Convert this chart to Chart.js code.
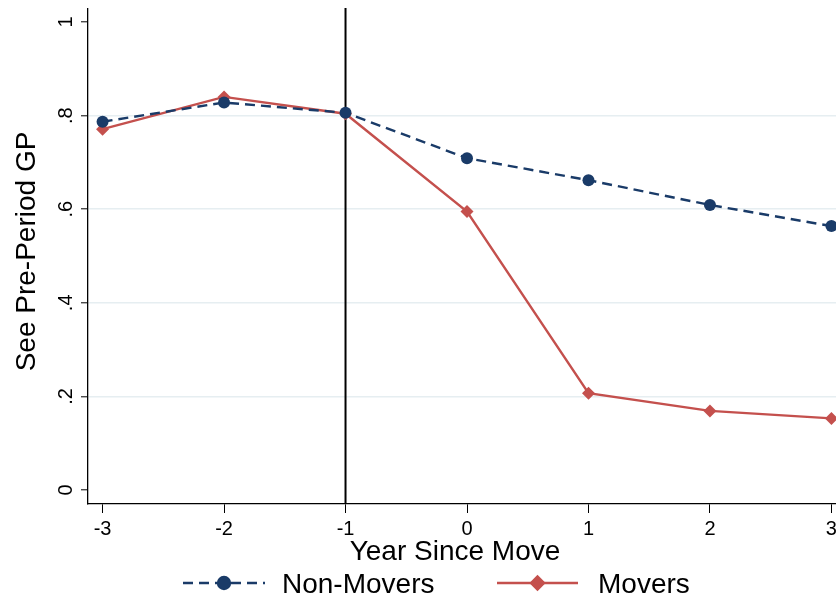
<!DOCTYPE html>
<html><head><meta charset="utf-8">
<script src="https://cdn.jsdelivr.net/npm/chart.js@4.4.0/dist/chart.umd.min.js"></script>
<style>
html,body{margin:0;padding:0;background:#fff;overflow:hidden;width:836px;height:601px}
#wrap{position:relative;width:860px;height:601px}
canvas{display:block}
</style>
</head><body><div id="wrap"><canvas id="c" width="860" height="601"></canvas></div>
<script>
const years = [-3, -2, -1, 0, 1, 2, 3];
const nonMovers = [0.787, 0.828, 0.806, 0.709, 0.662, 0.609, 0.564];
const movers = [0.771, 0.840, 0.804, 0.595, 0.207, 0.169, 0.153];
const xTicks = [-3, -2, -1, 0, 1, 2, 3];
const yTicks = [0, 0.2, 0.4, 0.6, 0.8, 1];
const yTickLabels = ['0', '.2', '.4', '.6', '.8', '1'];
const eventYear = -1;
const seriesNames = ['Non-Movers', 'Movers'];
const xTitle = 'Year Since Move';
const yTitle = 'See Pre-Period GP';

const NAVY = '#1a3b68';
const RED = '#c4504d';
const FONT = '"Liberation Sans", Arial, Helvetica, sans-serif';

const toPts = (xs, ys) => xs.map((x, i) => ({x: x, y: ys[i]}));

const extras = {
  id: 'extras',
  beforeDatasetsDraw(chart) {
    const {ctx, chartArea, scales} = chart;
    const x = scales.x.getPixelForValue(eventYear);
    ctx.save();
    ctx.strokeStyle = '#000';
    ctx.lineWidth = 2;
    ctx.beginPath();
    ctx.moveTo(x, chartArea.top - 1);
    ctx.lineTo(x, chartArea.bottom);
    ctx.stroke();
    ctx.restore();
  },
  afterDraw(chart) {
    const {ctx, chartArea, scales} = chart;
    ctx.save();
    ctx.fillStyle = '#000';
    // y tick labels (rotated)
    ctx.font = '20px ' + FONT;
    ctx.textAlign = 'center';
    ctx.textBaseline = 'alphabetic';
    yTicks.forEach((v, i) => {
      const y = scales.y.getPixelForValue(v);
      ctx.save();
      ctx.translate(72, y);
      ctx.rotate(-Math.PI / 2);
      ctx.fillText(yTickLabels[i], 0, 0);
      ctx.restore();
    });
    // y title
    ctx.font = '28px ' + FONT;
    ctx.save();
    ctx.translate(35, (chartArea.top + chartArea.bottom) / 2 - 5);
    ctx.rotate(-Math.PI / 2);
    ctx.fillText(yTitle, 0, 0);
    ctx.restore();
    // x title
    ctx.fillText(xTitle, 455, 560);
    // legend
    const legendY = 583;
    const items = [
      {name: seriesNames[0], x0: 183, x1: 265, tx: 282, ds: chart.data.datasets[0]},
      {name: seriesNames[1], x0: 497, x1: 578, tx: 598, ds: chart.data.datasets[1]}
    ];
    items.forEach(it => {
      ctx.save();
      ctx.strokeStyle = it.ds.borderColor;
      ctx.lineWidth = it.ds.borderWidth;
      ctx.setLineDash(it.ds.borderDash || []);
      ctx.beginPath();
      ctx.moveTo(it.x0, legendY);
      ctx.lineTo(it.x1, legendY);
      ctx.stroke();
      ctx.setLineDash([]);
      Chart.helpers.drawPoint(ctx, {
        pointStyle: it.ds.pointStyle, radius: it.ds.pointRadius, rotation: 0, borderWidth: 1
      }, (it.x0 + it.x1) / 2, legendY);
      ctx.fillStyle = it.ds.backgroundColor;
      ctx.strokeStyle = it.ds.borderColor;
      ctx.fill();
      ctx.restore();
      ctx.fillStyle = '#000';
      ctx.textAlign = 'left';
      ctx.font = '28px ' + FONT;
      ctx.fillText(it.name, it.tx, legendY + 10);
    });
    ctx.restore();
  }
};

new Chart(document.getElementById('c'), {
  type: 'line',
  data: {
    datasets: [
      {
        label: seriesNames[0], data: toPts(years, nonMovers),
        borderColor: NAVY, backgroundColor: NAVY, borderWidth: 2.4,
        borderDash: [10, 6], pointStyle: 'circle', pointRadius: 6,
        pointBorderWidth: 0, tension: 0
      },
      {
        label: seriesNames[1], data: toPts(years, movers),
        borderColor: RED, backgroundColor: RED, borderWidth: 2.4,
        pointStyle: 'rectRot', pointRadius: 6.5, pointBorderWidth: 0, tension: 0
      }
    ]
  },
  options: {
    responsive: false, animation: false, devicePixelRatio: 1,
    layout: {padding: {top: 9, right: 14, left: 0, bottom: 0}},
    plugins: {legend: {display: false}, tooltip: {enabled: false}},
    scales: {
      x: {
        type: 'linear', min: -3.12, max: 3.12,
        afterBuildTicks: s => { s.ticks = xTicks.map(v => ({value: v})); },
        afterFit: s => { s.height = 97; },
        ticks: {color: '#000', font: {size: 20, family: FONT}, padding: 4,
                callback: v => String(v), maxRotation: 0, autoSkip: false},
        grid: {drawOnChartArea: false, drawTicks: true, tickLength: 9, tickColor: '#000', tickWidth: 1},
        border: {display: true, color: '#000', width: 1.3}
      },
      y: {
        min: -0.0299, max: 1.0278,
        afterBuildTicks: s => { s.ticks = yTicks.map(v => ({value: v})); },
        afterFit: s => { s.width = 88; },
        ticks: {display: false},
        grid: {
          color: c => (c.tick && (c.tick.value === 0 || c.tick.value === 1)) ? 'rgba(0,0,0,0)' : '#e6eef1',
          lineWidth: 1.6, drawTicks: true, tickLength: 7, tickColor: '#000', tickWidth: 1
        },
        border: {display: true, color: '#000', width: 1.3}
      }
    }
  },
  plugins: [extras]
});
</script>
</body></html>
